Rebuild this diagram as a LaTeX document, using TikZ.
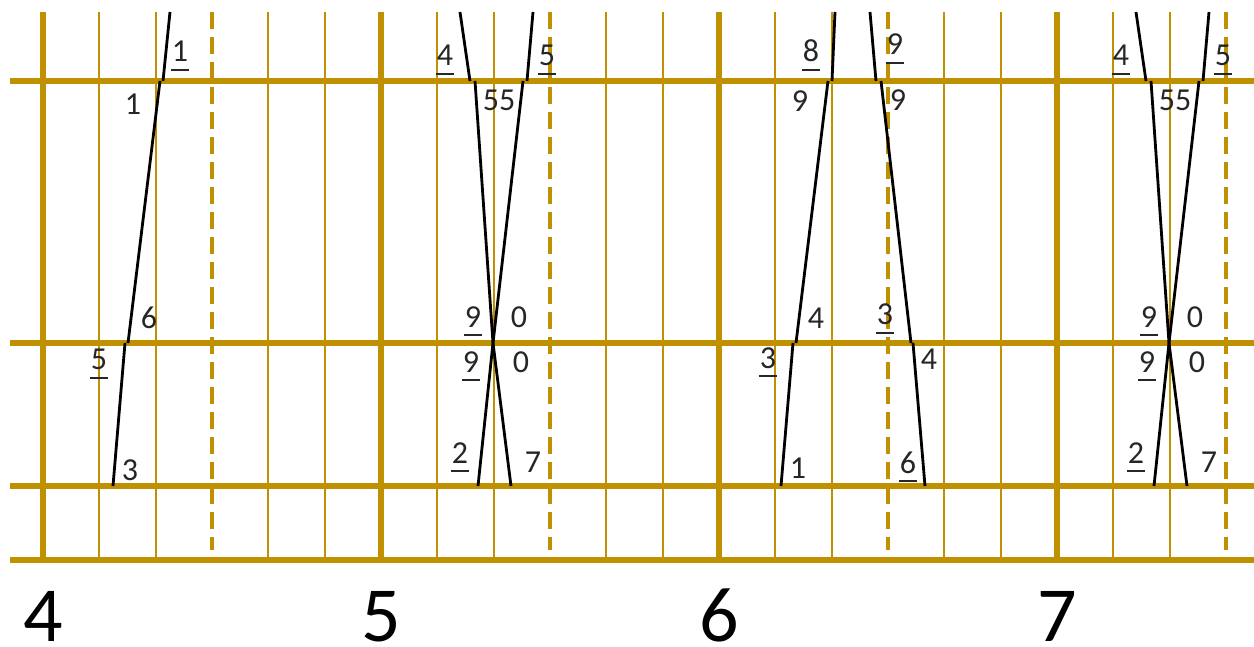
\documentclass[tikz,border=0pt]{standalone}
\usepackage{fontspec}
\setmainfont{Carlito}
\definecolor{gold}{HTML}{BF9000}
% digit with a low underline
\newcommand{\undl}[1]{\setbox0\hbox{#1}\rlap{\kern-1pt\rule[-9pt]{\dimexpr\wd0+2pt\relax}{2pt}}\box0}

\begin{document}
\begin{tikzpicture}[x=1pt, y=-1pt,
    rail/.style={gold, line width=5.5pt},
    wire/.style={gold, line width=2pt},
    midline/.style={gold, line width=3.5pt, dash pattern=on 17pt off 8pt},
    thread/.style={black, line width=2.8pt},
    lbl/.style={anchor=base, inner sep=0pt, text=black!85, font=\fontsize{32}{32}\selectfont},
    big/.style={anchor=base, inner sep=0pt, font=\fontsize{78}{78}\selectfont}]
    \useasboundingbox (0,0) rectangle (1254,647);
    % Grid
    \begin{scope}
        \clip (0,0) rectangle (1254,647);
        \foreach \k in {0,...,3} {
            \foreach \j in {1,2,4,5}
                \draw[wire] ({43+338*\k+56.33*\j},12) -- ++(0,548);
            \draw[midline] ({43+338*\k+169},12) -- ++(0,538);
            \draw[rail] ({43+338*\k},12) -- ++(0,548);
        }
        \foreach \y in {81,343,486,560}
            \draw[rail] (10,\y) -- (1254,\y);
    \end{scope}
    % Thread at 4
    \draw[thread] (170,12) -- (163,81);
    \draw[thread] (160,81) -- (128,343);
    \draw[thread] (125,343) -- (113,486);
    \node[lbl] (f1) at (180,62) {\undl{1}};
    \node[lbl] (f2) at (133,115) {1};
    \node[lbl] (f3) at (149,328) {6};
    \node[lbl] (f4) at (99,370) {\undl{5}};
    \node[lbl] (f5) at (130,480) {3};
    % Crossed threads at 5 and 7
    \foreach \dx in {0,676} {
        \begin{scope}[xshift=\dx pt]
            \draw[thread] (460,12) -- (470,81);
            \draw[thread] (475,81) -- (493,343);
            \draw[thread] (533,12) -- (527,81);
            \draw[thread] (523,81) -- (493,343);
            \draw[thread] (493,343) -- (478,486);
            \draw[thread] (493,343) -- (511,486);
            \node[lbl] (a\dx) at (445,66) {\undl{4}};
            \node[lbl] (b\dx) at (547,66) {\undl{5}};
            \node[lbl] (c\dx) at (499,111) {55};
            \node[lbl] (d\dx) at (473,327) {\undl{9}};
            \node[lbl] (e\dx) at (519,327) {0};
            \node[lbl] (g\dx) at (471,372) {\undl{9}};
            \node[lbl] (h\dx) at (521,372) {0};
            \node[lbl] (i\dx) at (460,463) {\undl{2}};
            \node[lbl] (j\dx) at (533,472) {7};
        \end{scope}
    }
    % Threads at 6
    \draw[thread] (835,12) -- (832,81);
    \draw[thread] (828,81) -- (796,343);
    \draw[thread] (793,343) -- (781,486);
    \draw[thread] (870,12) -- (876,81);
    \draw[thread] (881,81) -- (911,343);
    \draw[thread] (913,343) -- (925,486);
    \node[lbl] (s1) at (811,62) {\undl{8}};
    \node[lbl] (s2) at (895,55) {\undl{9}};
    \node[lbl] (s3) at (800,112) {9};
    \node[lbl] (s4) at (898,111) {9};
    \node[lbl] (s5) at (816,328) {4};
    \node[lbl] (s6) at (885,325) {\undl{3}};
    \node[lbl] (s7) at (768,368) {\undl{3}};
    \node[lbl] (s8) at (929,370) {4};
    \node[lbl] (s9) at (798,478) {1};
    \node[lbl] (s10) at (908,473) {\undl{6}};
    % Scale numbers
    \node[big] (n4) at (43,641) {4};
    \node[big] (n5) at (381,641) {5};
    \node[big] (n6) at (719,641) {6};
    \node[big] (n7) at (1057,641) {7};
\end{tikzpicture}
\end{document}
